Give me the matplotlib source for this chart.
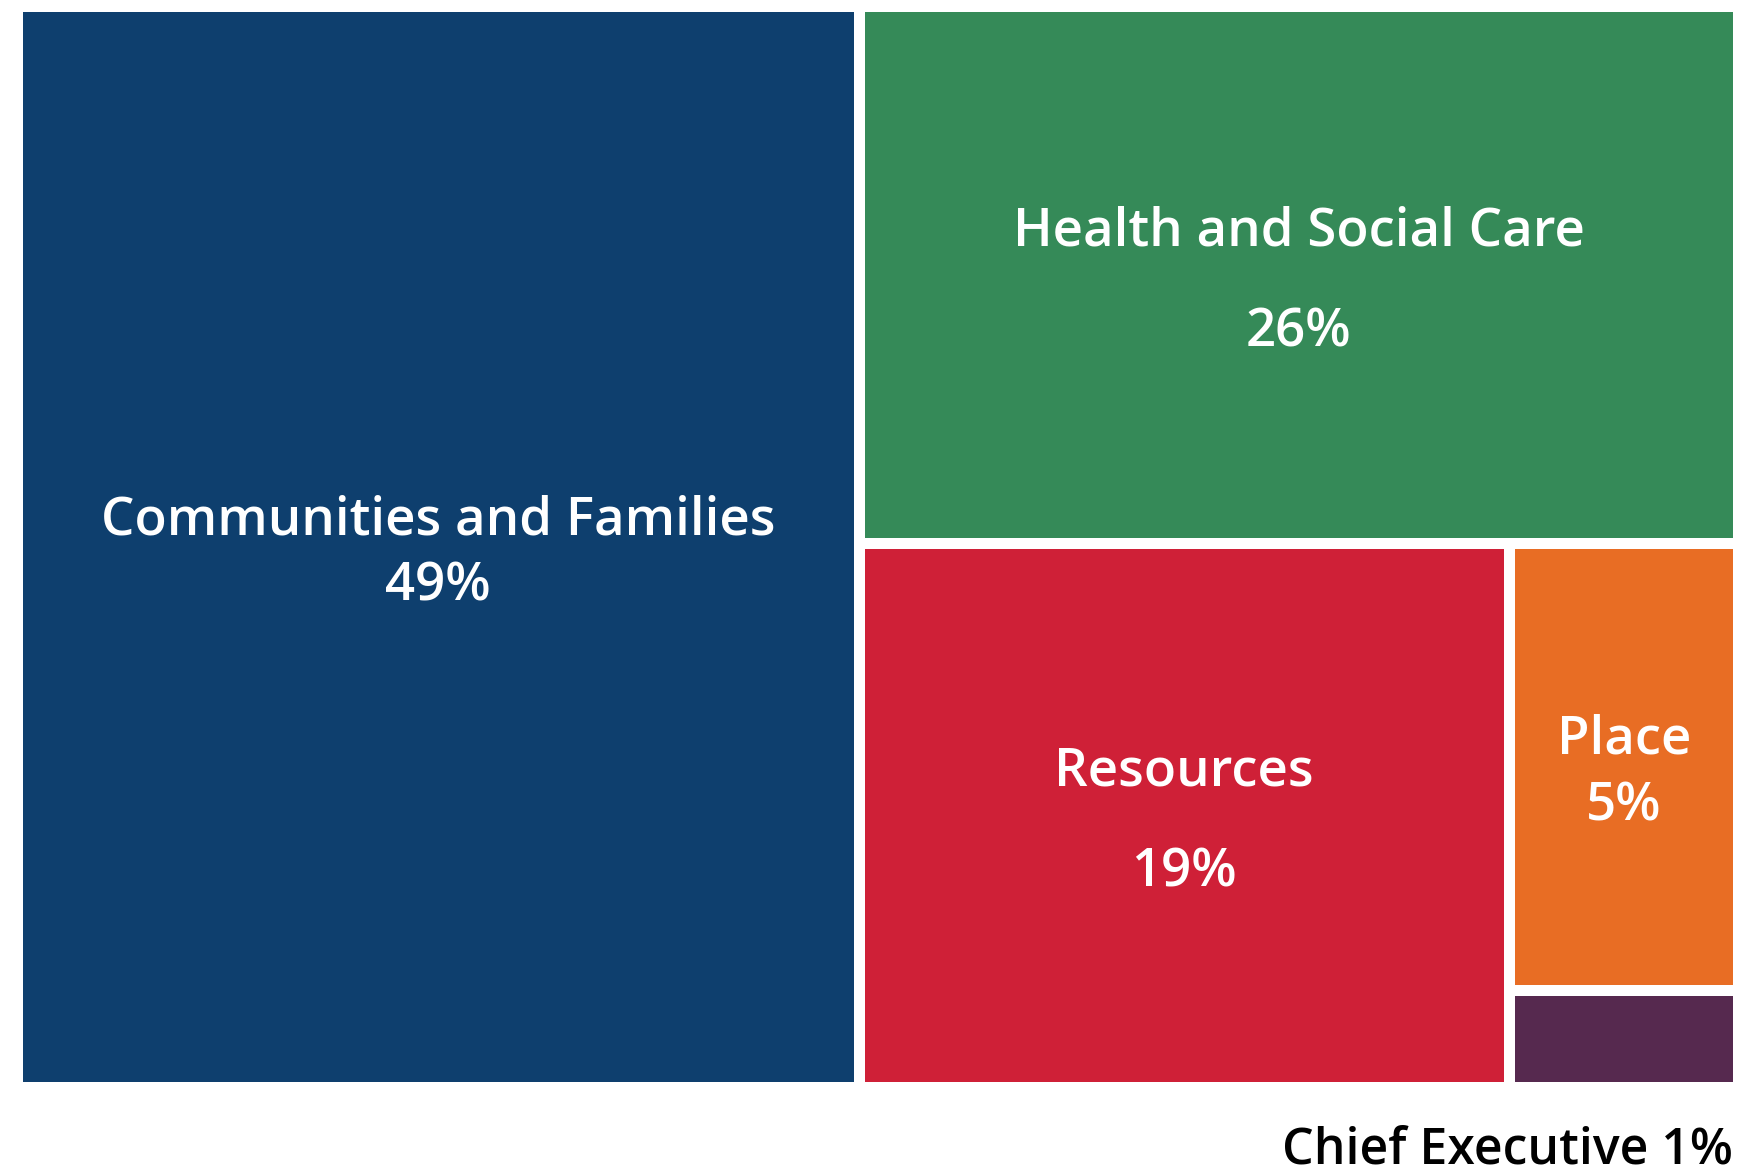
import matplotlib
matplotlib.use("Agg")
import matplotlib.pyplot as plt
from matplotlib.patches import Rectangle

# Data
names = ["Communities and Families", "Health and Social Care", "Resources", "Place", "Chief Executive"]
shares = [48.9, 25.4, 19.0, 5.5, 1.2]          # area shares
pct_labels = ["49%", "26%", "19%", "5%", "1%"]
colors = ["#0E3F6E", "#358A58", "#CF2037", "#E86D24", "#56294F"]

W, H, DPI = 1742, 1174, 100
fig = plt.figure(figsize=(W / DPI, H / DPI), dpi=DPI)
ax = fig.add_axes([0, 0, 1, 1])
ax.set_xlim(0, W)
ax.set_ylim(H, 0)
ax.axis("off")

gap = 11
x0, y0, x1, y1 = 23 - gap / 2, 12 - gap / 2, 1733 + gap / 2, 1082 + gap / 2

# alternating slice layout
rects = []
rx, ry, rw, rh = x0, y0, x1 - x0, y1 - y0
remaining = sum(shares)
for i, s in enumerate(shares):
    if i == len(shares) - 1:
        rects.append((rx, ry, rw, rh))
        break
    frac = s / remaining
    if i % 2 == 0:  # column on the left
        w = rw * frac
        rects.append((rx, ry, w, rh))
        rx += w
        rw -= w
    else:  # row on top
        h = rh * frac
        rects.append((rx, ry, rw, h))
        ry += h
        rh -= h
    remaining -= s

font = ["Open Sans", "DejaVu Sans"]
fs = 38
spacing = [66, 101, 101, 67]
yoff = 7
for i, (r, c) in enumerate(zip(rects, colors)):
    x, y, w, h = r
    ax.add_patch(Rectangle((x + gap / 2, y + gap / 2), w - gap, h - gap,
                           facecolor=c, edgecolor="none"))
    cx, cy = x + w / 2, y + h / 2 + yoff
    if i < 4:
        d = spacing[i] / 2
        ax.text(cx, cy - d, names[i], color="white", fontsize=fs, family=font,
                weight="semibold", ha="center", va="center")
        ax.text(cx, cy + d, pct_labels[i], color="white", fontsize=fs, family=font,
                weight="semibold", ha="center", va="center")
    else:
        ax.text(x + w - gap / 2, 1150, names[i] + " " + pct_labels[i], color="black",
                fontsize=36, family=font, weight="semibold", ha="right", va="center")

fig.savefig("out.png", dpi=DPI)
